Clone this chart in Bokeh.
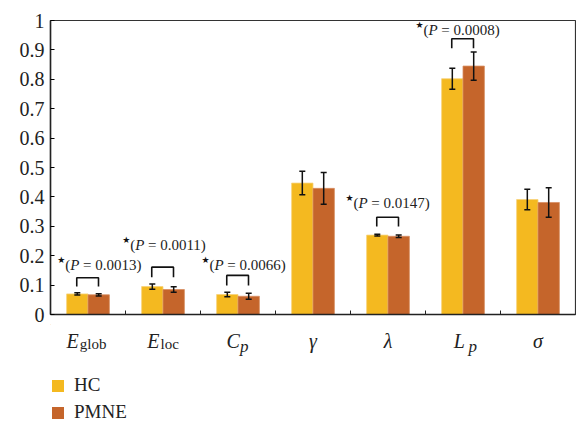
from bokeh.plotting import figure
from bokeh.layouts import column
from bokeh.models import (ColumnDataSource, Whisker, TeeHead, Legend, LegendItem,
                          FixedTicker, CustomJSTickFormatter, Range1d)
from bokeh.core.properties import value
from bokeh.embed import file_html
from bokeh.resources import INLINE

# ---------------- data ----------------
categories = ["E_glob", "E_loc", "C_p", "gamma", "lambda", "L_p", "sigma"]
label_main = ["E", "E", "C", "γ", "λ", "L", "σ"]
label_sub = ["glob", "loc", "p", "", "", "p", ""]
hc_mean = [0.070, 0.095, 0.068, 0.447, 0.270, 0.802, 0.391]
hc_err = [0.004, 0.009, 0.008, 0.040, 0.003, 0.036, 0.035]
pmne_mean = [0.067, 0.085, 0.062, 0.429, 0.266, 0.845, 0.381]
pmne_err = [0.004, 0.009, 0.010, 0.054, 0.004, 0.048, 0.050]
sig_index = [0, 1, 2, 4, 5]
sig_p = ["0.0013", "0.0011", "0.0066", "0.0147", "0.0008"]
series_names = ["HC", "PMNE"]
y_ticks = [0, 0.1, 0.2, 0.3, 0.4, 0.5, 0.6, 0.7, 0.8, 0.9, 1.0]

# ---------------- layout constants ----------------
HC_COLOR = "#F4B920"
PMNE_COLOR = "#C5652B"
SERIF = "Liberation Serif"
TXT = "#222222"
BAR_W = 0.285
bracket_low = [0.095, 0.127, 0.099, 0.299, 0.906]
bracket_high = [0.125, 0.161, 0.133, 0.331, 0.938]
annot_x = [0.089, 0.956, 2.013, 3.933, 4.867]
annot_y = [0.168, 0.237, 0.169, 0.380, 0.966]

n = len(categories)
centers = [i + 0.5 for i in range(n)]
hc_x = [c - BAR_W / 2 for c in centers]
pm_x = [c + BAR_W / 2 for c in centers]

# ---------------- main chart ----------------
p = figure(frame_width=525, frame_height=294, output_backend="svg", toolbar_location=None,
           x_range=Range1d(0, n), y_range=Range1d(0, 1),
           min_border_left=50, min_border_right=1, min_border_top=20, min_border_bottom=10)
p.grid.visible = False
p.outline_line_color = "#333333"
p.outline_line_width = 1.2

src_hc = ColumnDataSource(dict(x=hc_x, top=hc_mean,
                               up=[m + e for m, e in zip(hc_mean, hc_err)],
                               lo=[m - e for m, e in zip(hc_mean, hc_err)]))
src_pm = ColumnDataSource(dict(x=pm_x, top=pmne_mean,
                               up=[m + e for m, e in zip(pmne_mean, pmne_err)],
                               lo=[m - e for m, e in zip(pmne_mean, pmne_err)]))

p.vbar(x="x", top="top", width=BAR_W, bottom=0, source=src_hc,
       fill_color=HC_COLOR, line_color="#F8D27A", line_width=0.8)
p.vbar(x="x", top="top", width=BAR_W, bottom=0, source=src_pm,
       fill_color=PMNE_COLOR, line_color="#D88E62", line_width=0.8)

for s in (src_hc, src_pm):
    w = Whisker(source=s, base="x", upper="up", lower="lo", dimension="height",
                line_color="#111111", line_width=1.5, level="overlay",
                upper_head=TeeHead(size=6, line_color="#111111", line_width=1.5),
                lower_head=TeeHead(size=6, line_color="#111111", line_width=1.5))
    p.add_layout(w)

# brackets
xs, ys = [], []
for k, gi in enumerate(sig_index):
    a, b = centers[gi] - 0.15, centers[gi] + 0.14
    xs.append([a, a, b, b])
    ys.append([bracket_low[k], bracket_high[k], bracket_high[k], bracket_low[k]])
p.multi_line(xs=xs, ys=ys, line_color="#111111", line_width=1.6)

# significance annotations: star, "(", italic P, rest
star_src = ColumnDataSource(dict(x=annot_x, y=annot_y))
p.text(x="x", y="y", text=value("★"), source=star_src, text_font=value("DejaVu Sans"),
       text_font_size="9px", text_baseline="middle", text_align="left",
       y_offset=-5, text_color="#111111")
p.text(x="x", y="y", text=value("("), source=star_src, text_font=value(SERIF),
       text_font_size="15px", text_baseline="middle", text_align="left",
       x_offset=8, text_color=TXT)
p.text(x="x", y="y", text=value("P"), source=star_src, text_font=value(SERIF),
       text_font_size="15px", text_font_style="italic", text_baseline="middle",
       text_align="left", x_offset=13, text_color=TXT)
rest_src = ColumnDataSource(dict(x=annot_x, y=annot_y,
                                 t=["\u00a0=\u00a0%s)" % v for v in sig_p]))
p.text(x="x", y="y", text="t", source=rest_src, text_font=value(SERIF),
       text_font_size="15px", text_baseline="middle", text_align="left",
       x_offset=22, text_color=TXT)

# axes
p.yaxis.ticker = FixedTicker(ticks=y_ticks)
p.yaxis.formatter = CustomJSTickFormatter(code="return tick.toFixed(1).replace(/\\.0$/, '');")
p.yaxis.major_label_text_font = SERIF
p.yaxis.major_label_text_font_size = "20px"
p.yaxis.major_label_text_color = TXT
p.yaxis.major_tick_in = 4
p.yaxis.major_tick_out = 0
p.yaxis.minor_tick_line_color = None
p.yaxis.major_label_standoff = 6
p.yaxis.axis_line_color = TXT
p.yaxis.axis_line_width = 1.5

p.xaxis.ticker = FixedTicker(ticks=[1, 2, 3, 4, 5, 6])
p.xaxis.formatter = CustomJSTickFormatter(code="return '';")
p.xaxis.major_label_text_font_size = "1px"
p.xaxis.major_label_standoff = 0
p.xaxis.major_tick_in = 4
p.xaxis.major_tick_out = 0
p.xaxis.minor_tick_line_color = None
p.xaxis.axis_line_color = TXT
p.xaxis.axis_line_width = 1.5
p.xaxis.major_tick_line_color = TXT

# ---------------- label / legend strip below (y = pixels below the x axis, negative) ----------------
H2 = 99
p2 = figure(frame_width=525, frame_height=H2, output_backend="svg", toolbar_location=None,
            x_range=Range1d(0, n), y_range=Range1d(-(10 + H2), -10),
            x_axis_type=None, y_axis_type=None,
            min_border_left=50, min_border_right=1, min_border_top=0, min_border_bottom=0)
p2.grid.visible = False
p2.outline_line_color = None

main_dx = [-21.5, -15.8, -11.5, 0, 0, -9.2, 0]
sub_dx = [-8.2, -2.5, 2.0, 0, 0, 5.4, 0]
sub_style = ["normal", "normal", "italic", "normal", "normal", "italic", "normal"]
sub_y = [-29.3, -29.3, -31.5, 0, 0, -31.5, 0]
sub_size = ["15px", "15px", "17px", "15px", "15px", "17px", "15px"]

main_src = ColumnDataSource(dict(
    x=centers, y=[-26] * n, t=label_main, dx=main_dx,
    align=["left" if s else "center" for s in label_sub]))
p2.text(x="x", y="y", text="t", x_offset="dx", text_align="align", source=main_src,
        text_font=value(SERIF), text_font_size="20px", text_font_style="italic",
        text_baseline="alphabetic", text_color=TXT)
si = [i for i in range(n) if label_sub[i]]
sub_src = ColumnDataSource(dict(
    x=[centers[i] for i in si], y=[sub_y[i] for i in si], t=[label_sub[i] for i in si],
    dx=[sub_dx[i] for i in si], st=[sub_style[i] for i in si],
    fs=[sub_size[i] for i in si]))
p2.text(x="x", y="y", text="t", x_offset="dx", source=sub_src, text_font_style="st",
        text_font=value(SERIF), text_font_size="fs", text_align="left",
        text_baseline="alphabetic", text_color=TXT)

# legend (proxy renderers placed outside the visible range)
lr_hc = p2.vbar(x=[-50], top=[0], width=1, fill_color=HC_COLOR, line_color=None)
lr_pm = p2.vbar(x=[-50], top=[0], width=1, fill_color=PMNE_COLOR, line_color=None)
legend = Legend(items=[LegendItem(label=series_names[0], renderers=[lr_hc]),
                       LegendItem(label=series_names[1], renderers=[lr_pm])],
                location=(0, 0), orientation="vertical",
                glyph_width=15, glyph_height=15, label_height=15, spacing=5,
                label_standoff=9, padding=0, margin=0, border_line_color=None,
                background_fill_alpha=0, label_text_font=SERIF,
                label_text_font_size="19px", label_text_color=TXT)
p2.add_layout(legend, "center")

layout = column(p, p2, spacing=0)
open("out.html", "w").write(file_html(layout, INLINE))
